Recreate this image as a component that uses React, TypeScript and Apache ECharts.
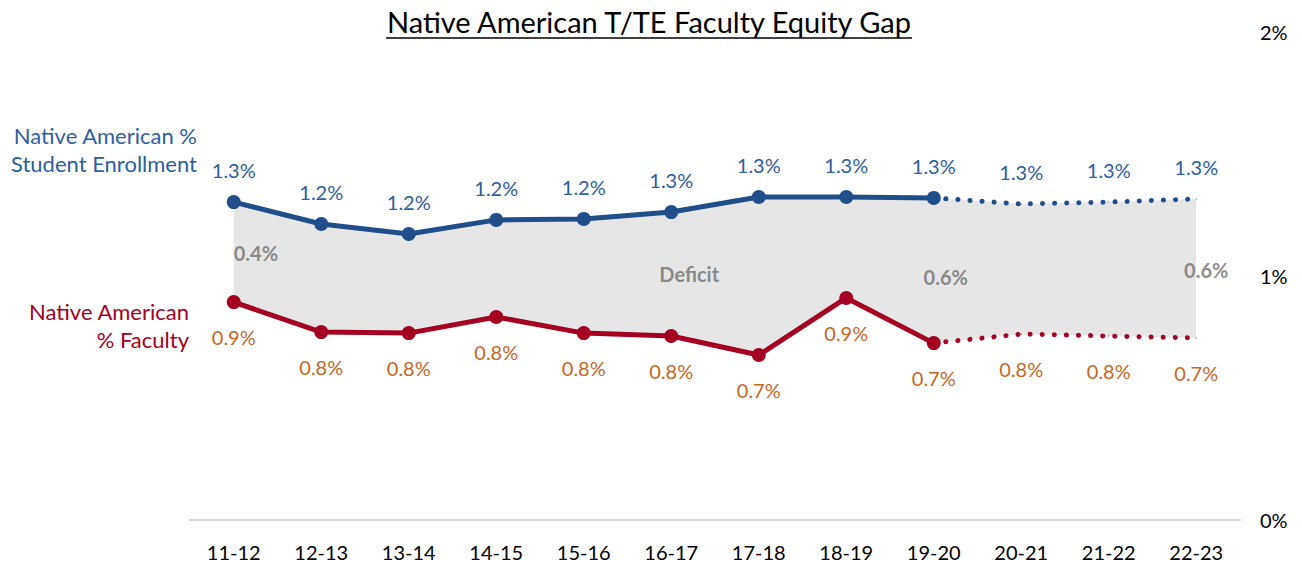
import React, { useEffect, useRef } from 'react';
import * as echarts from 'echarts';

const categories = ['11-12', '12-13', '13-14', '14-15', '15-16', '16-17', '17-18', '18-19', '19-20', '20-21', '21-22', '22-23'];
const studentPct = [1.303, 1.213, 1.172, 1.23, 1.234, 1.262, 1.324, 1.324, 1.32, 1.295, 1.303, 1.316];
const facultyPct = [0.893, 0.77, 0.766, 0.832, 0.766, 0.754, 0.676, 0.91, 0.725, 0.762, 0.754, 0.746];
const lastActualIndex = 8;
const deficitValueIdx = [0, 8, 11];
const deficitWordIdx = 5;
const deficitWord = 'Deficit';
const yMin = 0;
const yMax = 2;
const yInterval = 1;
const titleText = 'Native American T/TE Faculty Equity Gap';
const studentName = 'Native American %\nStudent Enrollment';
const facultyName = 'Native American\n% Faculty';

const FONT = 'Lato, "Open Sans", sans-serif';
const BLUE = '#1f4e8a';
const BLUE_TXT = '#2d5e9e';
const RED = '#a50021';
const ORANGE = '#c8661e';
const GRAY_FILL = '#e6e6e6';
const GRAY_TXT = '#6f6f6f';

const fmt = (v: number) => v.toFixed(1) + '%';

export default function App() {
  const ref = useRef<HTMLDivElement>(null);
  useEffect(() => {
    if (!ref.current) return;
    const chart = echarts.init(ref.current, undefined, { renderer: 'svg' });
    const gap = studentPct.map((v, i) => +(v - facultyPct[i]).toFixed(4));
    const solid = (arr: number[]) => arr.map((v, i) => (i <= lastActualIndex ? v : null));
    const dotted = (arr: number[]) =>
      arr.map((v, i) =>
        i >= lastActualIndex ? (i === lastActualIndex ? { value: v, label: { show: false } } : v) : null
      );
    const deficitOffsets: Record<number, { align: string; offset: number[] }> = {
      0: { align: 'left', offset: [0, 1] },
      8: { align: 'center', offset: [12, 6] },
      11: { align: 'center', offset: [10, 2] },
    };
    const deficitData: any[] = deficitValueIdx.map((i) => ({
      value: [i, (studentPct[i] + facultyPct[i]) / 2],
      label: { formatter: fmt(gap[i]), align: deficitOffsets[i].align, offset: deficitOffsets[i].offset },
    }));
    deficitData.push({
      value: [deficitWordIdx, (studentPct[deficitWordIdx] + facultyPct[deficitWordIdx]) / 2],
      label: { formatter: deficitWord, align: 'center', offset: [18, 0] },
    });

    const lineCommon = {
      type: 'line',
      connectNulls: false,
      z: 3,
    };
    const dataLabel = (color: string, dy: number) => ({
      show: true,
      position: 'inside',
      offset: [0, dy],
      color,
      fontSize: 20,
      fontFamily: FONT,
      formatter: (p: any) => fmt(p.value),
    });

    chart.setOption({
      animation: false,
      grid: { left: 190, right: 62, top: 32, bottom: 45 },
      xAxis: {
        type: 'category',
        data: categories,
        boundaryGap: true,
        axisLine: { show: true, lineStyle: { color: '#d9d9d9', width: 2 } },
        axisTick: { show: false },
        axisLabel: { color: '#000', fontSize: 20, fontFamily: FONT, margin: 22 },
        splitLine: { show: false },
      },
      yAxis: {
        type: 'value',
        position: 'right',
        min: yMin,
        max: yMax,
        interval: yInterval,
        axisLine: { show: false },
        axisTick: { show: false },
        splitLine: { show: false },
        axisLabel: { color: '#000', fontSize: 20, fontFamily: FONT, margin: 20, formatter: '{value}%' },
      },
      graphic: [
        {
          type: 'text',
          x: 649,
          y: 21,
          style: {
            text: titleText,
            font: `29px ${FONT}`,
            fill: '#000',
            align: 'center',
            verticalAlign: 'middle',
          },
        },
        {
          type: 'line',
          shape: { x1: 386, y1: 38, x2: 912, y2: 38 },
          style: { stroke: '#000', lineWidth: 1.5 },
        },
        {
          type: 'text',
          x: 197,
          y: 149,
          style: {
            text: studentName,
            font: `22px ${FONT}`,
            fill: BLUE_TXT,
            align: 'right',
            verticalAlign: 'middle',
            lineHeight: 28,
          },
        },
        {
          type: 'text',
          x: 189,
          y: 325,
          style: {
            text: facultyName,
            font: `22px ${FONT}`,
            fill: RED,
            align: 'right',
            verticalAlign: 'middle',
            lineHeight: 28,
          },
        },
      ],
      series: [
        {
          type: 'line',
          stack: 'gap',
          data: facultyPct,
          symbol: 'none',
          lineStyle: { width: 0, opacity: 0 },
          silent: true,
          z: 1,
        },
        {
          type: 'line',
          stack: 'gap',
          data: gap,
          symbol: 'none',
          lineStyle: { width: 0, opacity: 0 },
          areaStyle: { color: GRAY_FILL, opacity: 1 },
          silent: true,
          z: 1,
        },
        {
          ...lineCommon,
          data: solid(studentPct),
          symbol: 'circle',
          symbolSize: 14,
          itemStyle: { color: BLUE },
          lineStyle: { color: BLUE, width: 5 },
          label: dataLabel(BLUE_TXT, -32),
        },
        {
          ...lineCommon,
          data: dotted(studentPct),
          symbol: 'circle',
          symbolSize: 1,
          showSymbol: true,
          itemStyle: { color: BLUE },
          lineStyle: { color: BLUE, width: 5, type: [0.1, 12], cap: 'round' },
          label: dataLabel(BLUE_TXT, -32),
        },
        {
          ...lineCommon,
          data: solid(facultyPct),
          symbol: 'circle',
          symbolSize: 14,
          itemStyle: { color: RED },
          lineStyle: { color: RED, width: 5 },
          label: dataLabel(ORANGE, 35),
        },
        {
          ...lineCommon,
          data: dotted(facultyPct),
          symbol: 'circle',
          symbolSize: 1,
          showSymbol: true,
          itemStyle: { color: RED },
          lineStyle: { color: RED, width: 5, type: [0.1, 12], cap: 'round' },
          label: dataLabel(ORANGE, 35),
        },
        {
          type: 'scatter',
          data: deficitData,
          symbolSize: 1,
          itemStyle: { color: 'rgba(0,0,0,0)' },
          silent: true,
          z: 4,
          label: {
            show: true,
            position: 'inside',
            color: GRAY_TXT,
            fontSize: 20,
            fontWeight: 'bold',
            fontFamily: FONT,
          },
        },
      ],
    });
    return () => chart.dispose();
  }, []);
  return (
    <div
      ref={ref}
      style={{ position: 'absolute', left: 0, top: 0, width: 1302, height: 565 }}
    />
  );
}
